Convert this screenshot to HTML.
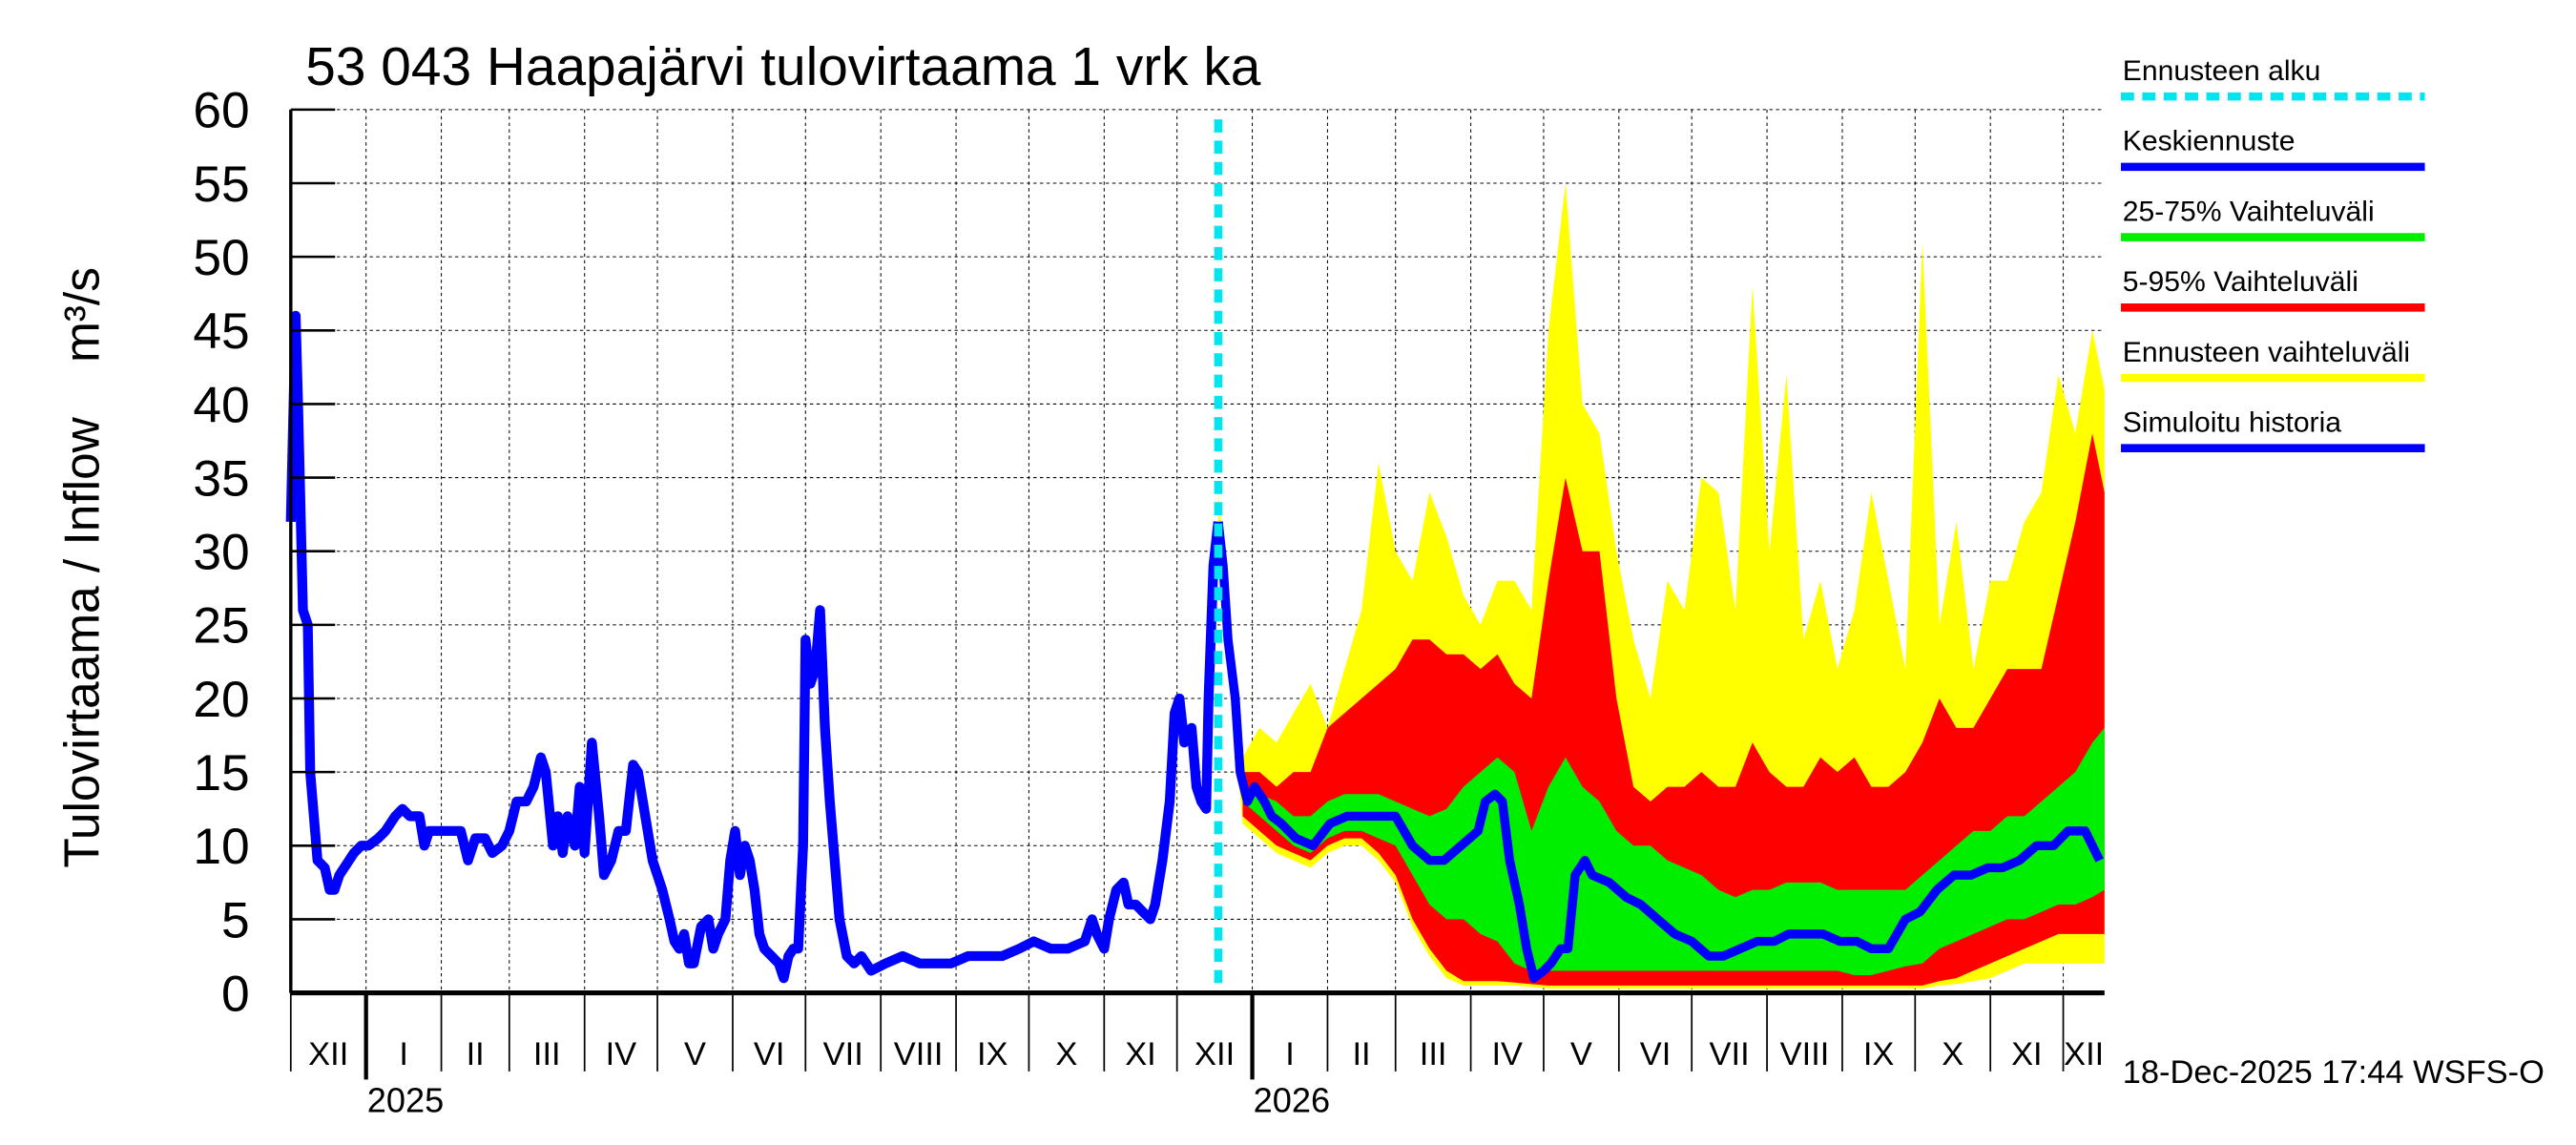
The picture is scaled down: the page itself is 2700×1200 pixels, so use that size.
<!DOCTYPE html>
<html><head><meta charset="utf-8"><style>
html,body{margin:0;padding:0;background:#fff;}
svg{display:block;font-family:"Liberation Sans",Arial,sans-serif;}
</style></head><body>
<svg id="chart" width="2700" height="1200" viewBox="0 0 1568 700" preserveAspectRatio="none" xmlns="http://www.w3.org/2000/svg">
<rect x="0" y="0" width="1568" height="700" fill="#fff"/>
<text x="186" y="52" font-size="33">53 043 Haapajärvi tulovirtaama 1 vrk ka</text>
<g id="grid"></g>
<g id="bands"></g>
<g id="lines"></g>
<g id="axes"></g>
<text transform="translate(60,347) rotate(-90)" text-anchor="middle" font-size="30" xml:space="preserve">Tulovirtaama / Inflow    m³/s</text>
<text x="1292" y="662" font-size="20">18-Dec-2025 17:44 WSFS-O</text>
<g id="legend"></g>
</svg>
<script>
// ---- data ----
const yTicks = [0,5,10,15,20,25,30,35,40,45,50,55,60];
const monthStarts = [31,62,90,121,151,182,212,243,274,304,335,365,396,427,455,486,516,547,577,608,639,669,700,730];
const monthLabels = ["XII","I","II","III","IV","V","VI","VII","VIII","IX","X","XI","XII","I","II","III","IV","V","VI","VII","VIII","IX","X","XI","XII"];
const yearStarts = [31,396];
const yearLabels = ["2025","2026"];
const forecastStartDay = 382;
const histDays = [0,2,3,5,7,8,9,11,14,16,18,20,22,26,29,32,36,39,43,46,49,53,55,57,62,66,70,73,76,80,83,87,90,93,97,100,103,105,108,110,112,114,117,119,121,124,127,129,132,135,138,141,143,146,149,153,156,158,160,162,164,166,169,172,174,176,179,181,183,185,187,189,191,193,195,198,201,203,205,207,209,211,212,214,216,218,220,222,224,226,229,232,235,239,245,252,259,266,272,279,286,293,300,306,313,320,327,330,332,335,337,340,343,345,348,351,354,356,359,362,364,366,368,371,373,375,377,378,380,382];
const histValues = [32,46,40,26,25,15,13,9,8.5,7,7,8,8.5,9.5,10,10,10.5,11,12,12.5,12,12,10,11,11,11,11,9,10.5,10.5,9.5,10,11,13,13,14,16,15,10,12,9.5,12,10,14,9.5,17,12,8,9,11,11,15.5,15,12,9,7,5,3.5,3,4,2,2,4.5,5,3,4,5,9,11,8,10,9,7,4,3,2.5,2,1,2.5,3,3,10,24,21,22,26,18,13,9,5,2.5,2,2.5,1.5,2,2.5,2,2,2,2.5,2.5,2.5,3,3.5,3,3,3.5,5,4,3,5,7,7.5,6,6,5.5,5,6,9,13,19,20,17,18,14,13,12.5,20,29,32];
const meanDays = [382,384,386,389,391,394,397,401,404,408,414,421,428,435,442,448,455,462,469,475,482,489,492,496,499,502,506,509,512,516,519,523,526,529,533,536,543,550,556,563,570,577,584,590,597,604,611,617,624,631,638,645,651,658,665,671,678,685,692,699,705,712,719,726,732,739,745];
const meanValues = [32,29,24,20,15,13,14,13,12,11.5,10.5,10,11.5,12,12,12,12,10,9,9,10,11,13,13.5,13,9,6,3,1,1.5,2,3,3,8,9,8,7.5,6.5,6,5,4,3.5,2.5,2.5,3,3.5,3.5,4,4,4,3.5,3.5,3,3,5,5.5,7,8,8,8.5,8.5,9,10,10,11,11,9];
const bandStartDay = 392, bandStepDays = 7;
const yellowMax = [16,18,17,19,21,18,22,26,36,30,28,34,31,27,25,28,28,26,45,55,40,38,30,24,20,28,26,35,34,26,48,30,42,24,28,22,26,34,28,22,51,25,32,22,28,28,32,34,42,38,45,41,38];
const redMax = [15,15,14,15,15,18,19,20,21,22,24,24,23,23,22,23,21,20,28,35,30,30,20,14,13,14,14,15,14,14,17,15,14,14,16,15,16,14,14,15,17,20,18,18,20,22,22,22,27,32,38,34,32];
const greenMax = [14,13.5,13,12,12,13,13.5,13.5,13.5,13,12.5,12,12.5,14,15,16,15,11,14,16,14,13,11,10,10,9,8.5,8,7,6.5,7,7,7.5,7.5,7.5,7,7,7,7,7,8,9,10,11,11,12,12,13,14,15,17,18,17];
const greenMin = [13,12,11,10,9.5,10.5,11,11,10.5,10,8,6,5,5,4,3.5,2,1.5,1.5,1.5,1.5,1.5,1.5,1.5,1.5,1.5,1.5,1.5,1.5,1.5,1.5,1.5,1.5,1.5,1.5,1.5,1.2,1.2,1.5,1.8,2,3,3.5,4,4.5,5,5,5.5,6,6,6.5,7,7];
const redMin = [12,11,10,9.5,9,10,10.5,10.5,9.5,8,5,3,1.5,0.8,0.8,0.8,0.7,0.6,0.5,0.5,0.5,0.5,0.5,0.5,0.5,0.5,0.5,0.5,0.5,0.5,0.5,0.5,0.5,0.5,0.5,0.5,0.5,0.5,0.5,0.5,0.5,0.8,1,1.5,2,2.5,3,3.5,4,4,4,4,4];
const yellowMin = [11.5,10.5,9.5,9,8.5,9.5,10,10,9,7.5,4.5,2.5,1,0.5,0.5,0.5,0.5,0.4,0.3,0.3,0.3,0.3,0.3,0.3,0.3,0.3,0.3,0.3,0.3,0.3,0.3,0.3,0.3,0.3,0.3,0.3,0.3,0.3,0.3,0.3,0.3,0.5,0.6,0.8,1,1.5,2,2,2,2,2,2,2];
const legendLabels = ["Ennusteen alku","Keskiennuste","25-75% Vaihteluväli","5-95% Vaihteluväli","Ennusteen vaihteluväli","Simuloitu historia"];
const legendColors = ["#00e5ee","#0000ff","#00ee00","#ff0000","#ffff00","#0000ff"];

// ---- scales ----
const X0=177, X1=1281, Y0=607, Y1=67, DMAX=747, VMAX=60;
const xs = d => X0 + d*(X1-X0)/DMAX;
const ys = v => Y0 - v*(Y0-Y1)/VMAX;
const NS="http://www.w3.org/2000/svg";
function mk(tag, parent, attrs){const e=document.createElementNS(NS,tag);for(const k in attrs)e.setAttribute(k,attrs[k]);parent.appendChild(e);return e;}
const grid=document.getElementById('grid'), bands=document.getElementById('bands'), lines=document.getElementById('lines'), axes=document.getElementById('axes'), legend=document.getElementById('legend');

yTicks.forEach(v=>{ if(v===0) return;
  const l=mk('line',grid,{x1:X0,x2:X1,y1:ys(v),y2:ys(v),stroke:'#000','stroke-width':0.6,'stroke-dasharray':'2,2'});
  
  
});
monthStarts.forEach(d=>{
  const l=mk('line',grid,{x1:xs(d),x2:xs(d),y1:Y1,y2:Y0,stroke:'#000','stroke-width':0.6,'stroke-dasharray':'2,2'});
  
  
});

function bandPath(upper, lower){
  let p='';
  upper.forEach((v,i)=>{const d=Math.min(bandStartDay+i*bandStepDays,DMAX);p+=(i?'L':'M')+xs(d)+','+ys(v);});
  for(let i=lower.length-1;i>=0;i--){const d=Math.min(bandStartDay+i*bandStepDays,DMAX);p+='L'+xs(d)+','+ys(lower[i]);}
  return p+'Z';
}
function band(arrU, arrL, col, name){
  const p=mk('path',bands,{d:bandPath(arrU,arrL),fill:col});
  
  
}
band(yellowMax,yellowMin,'#ffff00','band-forecast-range');
band(redMax,redMin,'#ff0000','band-5-95');
band(greenMax,greenMin,'#00ee00','band-25-75');
const w=mk('path',bands,{d:`M${xs(forecastStartDay)},${ys(34)}L${xs(bandStartDay)},${ys(yellowMax[0])}L${xs(bandStartDay)},${ys(yellowMin[0])}L${xs(forecastStartDay)},${ys(30)}Z`,fill:'#ffff00'});



function linePath(days, vals){return days.map((d,i)=>(i?'L':'M')+xs(d)+','+ys(vals[i])).join('');}
const hl=mk('path',lines,{d:linePath(histDays,histValues),fill:'none',stroke:'#0000ff','stroke-width':6,'stroke-linejoin':'round'});


const ml=mk('path',lines,{d:linePath(meanDays,meanValues),fill:'none',stroke:'#0000ff','stroke-width':5.5,'stroke-linejoin':'round'});


const fl=mk('line',lines,{x1:xs(forecastStartDay),x2:xs(forecastStartDay),y1:Y1+6,y2:Y0,stroke:'#00e5ee','stroke-width':5,'stroke-dasharray':'8,5'});



mk('line',axes,{x1:X0,x2:X0,y1:Y1,y2:Y0,stroke:'#000','stroke-width':2});
mk('line',axes,{x1:X0,x2:X1,y1:Y0,y2:Y0,stroke:'#000','stroke-width':3});
yTicks.forEach(v=>{
  mk('line',axes,{x1:X0,x2:X0+27,y1:ys(v),y2:ys(v),stroke:'#000','stroke-width':1.5});
  const t=mk('text',axes,{x:152,y:ys(v)+11,'text-anchor':'end','font-size':31});
  t.textContent=v;
  
  
});
mk('line',axes,{x1:X0,x2:X0,y1:Y0,y2:655,stroke:'#000','stroke-width':1});
monthStarts.forEach(d=>{
  mk('line',axes,{x1:xs(d),x2:xs(d),y1:Y0,y2:655,stroke:'#000','stroke-width':1});
});
yearStarts.forEach((d,i)=>{
  mk('line',axes,{x1:xs(d),x2:xs(d),y1:Y0,y2:660,stroke:'#000','stroke-width':2.5});
  const t=mk('text',axes,{x:xs(d)+24,y:680,'text-anchor':'middle','font-size':21});
  t.textContent=yearLabels[i];
  
  
});
const bounds=[0].concat(monthStarts,[DMAX]);
monthLabels.forEach((m,i)=>{
  const c=(xs(bounds[i])+xs(bounds[i+1]))/2;
  const t=mk('text',axes,{x:c,y:651,'text-anchor':'middle','font-size':20});
  t.textContent=m;
  
  
});

legendLabels.forEach((lab,i)=>{
  const yT=49+i*43, yL=59+i*43;
  const t=mk('text',legend,{x:1292,y:yT,'font-size':17.5});
  t.textContent=lab;
  
  
  const l=mk('line',legend,{x1:1291,x2:1476,y1:yL,y2:yL,stroke:legendColors[i],'stroke-width':5,'stroke-dasharray':i===0?'8,5':'none'});
  
  
});
</script>
</body></html>
